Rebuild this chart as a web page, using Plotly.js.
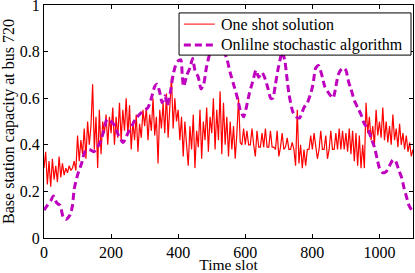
<!DOCTYPE html>
<html>
<head>
<meta charset="utf-8">
<script src="https://cdn.plot.ly/plotly-3.0.1.min.js"></script>
<style>html,body{margin:0;padding:0;background:#fff;}#chart{width:415px;height:273px;}</style>
</head>
<body>
<div id="chart"></div>
<script>
// One shot solution, sampled every 5 time slots (0..1100)
const oneShotStep = 5;
const oneShot = [
0.30,0.37,0.23,0.33,0.22,0.34,0.25,0.31,0.24,0.35,0.26,0.32,0.27,0.30,0.28,0.31,0.29,0.30,0.33,0.29,
0.44,0.33,0.42,0.36,0.47,0.34,0.50,0.40,0.48,0.66,0.38,0.52,0.30,0.55,0.36,0.50,0.45,0.53,0.40,0.52,
0.45,0.56,0.40,0.52,0.43,0.58,0.42,0.55,0.46,0.60,0.44,0.57,0.38,0.50,0.42,0.53,0.37,0.49,0.43,0.55,
0.48,0.56,0.42,0.53,0.46,0.60,0.44,0.52,0.32,0.55,0.47,0.58,0.45,0.62,0.43,0.56,0.69,0.47,0.60,0.50,
0.55,0.42,0.52,0.35,0.50,0.40,0.31,0.48,0.38,0.53,0.30,0.46,0.39,0.55,0.34,0.50,0.42,0.56,0.37,0.52,
0.45,0.60,0.38,0.55,0.42,0.63,0.36,0.58,0.40,0.52,0.35,0.50,0.38,0.48,0.34,0.45,0.60,0.41,0.40,0.47,
0.40,0.46,0.40,0.40,0.47,0.40,0.35,0.46,0.39,0.39,0.45,0.39,0.47,0.39,0.39,0.46,0.39,0.39,0.38,0.46,
0.35,0.39,0.45,0.38,0.39,0.43,0.38,0.38,0.41,0.38,0.31,0.55,0.32,0.40,0.30,0.38,0.31,0.38,0.38,0.44,
0.38,0.45,0.38,0.34,0.38,0.46,0.38,0.38,0.44,0.34,0.38,0.46,0.38,0.38,0.45,0.38,0.47,0.38,0.46,0.38,
0.45,0.37,0.47,0.36,0.46,0.33,0.45,0.31,0.44,0.30,0.40,0.30,0.58,0.45,0.52,0.42,0.48,0.40,0.55,0.44,
0.50,0.43,0.56,0.42,0.50,0.41,0.48,0.40,0.53,0.42,0.47,0.39,0.49,0.40,0.45,0.38,0.44,0.37,0.41,0.35,
0.38
];
// Online stochastic algorithm
const onlineSlots = [0,10,20,28,38,48,57,66,78,85,90,100,112,122,135,148,160,170,178,188,200,212,222,236,250,262,272,292,310,322,330,337,346,352,361,367,376,385,392,400,408,412,416,426,435,443,450,460,468,476,484,492,505,520,533,545,555,565,575,585,595,603,612,622,632,640,650,660,668,676,682,690,697,703,710,718,724,730,742,752,762,775,785,795,802,810,818,824,830,837,845,855,862,870,877,884,893,900,908,915,925,935,945,955,965,975,985,993,1000,1010,1020,1030,1040,1048,1058,1066,1074,1080,1088,1100];
const online = [0.12,0.14,0.16,0.18,0.15,0.14,0.09,0.08,0.10,0.14,0.21,0.27,0.32,0.37,0.38,0.37,0.39,0.42,0.46,0.51,0.50,0.48,0.44,0.41,0.45,0.48,0.51,0.54,0.56,0.61,0.65,0.66,0.62,0.58,0.61,0.57,0.62,0.70,0.74,0.76,0.765,0.70,0.65,0.70,0.73,0.77,0.72,0.69,0.64,0.66,0.73,0.78,0.83,0.84,0.81,0.77,0.71,0.66,0.61,0.55,0.52,0.56,0.62,0.67,0.72,0.69,0.71,0.68,0.64,0.60,0.60,0.66,0.72,0.76,0.80,0.76,0.69,0.62,0.54,0.52,0.515,0.56,0.58,0.62,0.66,0.73,0.74,0.72,0.69,0.65,0.63,0.61,0.60,0.65,0.70,0.72,0.73,0.72,0.67,0.64,0.59,0.56,0.53,0.49,0.47,0.43,0.39,0.34,0.30,0.28,0.285,0.31,0.335,0.33,0.29,0.26,0.21,0.18,0.14,0.11];
const seriesNames = ['One shot solution', 'Onlilne stochastic algorithm'];
const seriesColors = ['#ff0000', '#bf00bf'];
const xTicks = [0,200,400,600,800,1000];
const yTicks = [0,0.2,0.4,0.6,0.8,1];
const yTickText = ['0','0.2','0.4','0.6','0.8','1'];

const oneShotSlots = oneShot.map((_, i) => i * oneShotStep);
const FAM = 'Liberation Serif, Times New Roman, serif';
const font = {family: FAM, size: 16, color: '#000'};
const titleFont = {family: FAM, size: 15.5, color: '#000'};
const DASH = '7px,4px';

const traces = [
  {x: oneShotSlots, y: oneShot, type: 'scatter', mode: 'lines', name: seriesNames[0],
   line: {color: seriesColors[0], width: 1.2}},
  {x: onlineSlots, y: online, type: 'scatter', mode: 'lines', name: seriesNames[1],
   line: {color: seriesColors[1], width: 3, dash: DASH, shape: 'spline', smoothing: 0.6}}
];

// legend box drawn in paper coordinates (top-right, inside the plot)
const lg = {x0: 0.366, x1: 0.9946, y0: 0.785, y1: 0.966, sx0: 0.379, sx1: 0.463, tx: 0.474, rows: [0.918, 0.828]};
const shapes = [
  {type: 'rect', xref: 'paper', yref: 'paper', x0: lg.x0, x1: lg.x1, y0: lg.y0, y1: lg.y1,
   fillcolor: '#fff', line: {color: '#000', width: 1}, layer: 'above'},
  {type: 'line', xref: 'paper', yref: 'paper', x0: lg.sx0, x1: lg.sx1, y0: lg.rows[0], y1: lg.rows[0],
   line: {color: seriesColors[0], width: 1}, layer: 'above'},
  {type: 'line', xref: 'paper', yref: 'paper', x0: lg.sx0, x1: lg.sx1, y0: lg.rows[1], y1: lg.rows[1],
   line: {color: seriesColors[1], width: 3, dash: DASH}, layer: 'above'}
];
const annotations = seriesNames.map((n, i) => ({
  xref: 'paper', yref: 'paper', x: lg.tx, y: lg.rows[i], xanchor: 'left', yanchor: 'middle',
  text: n, showarrow: false, font: {family: FAM, size: 16, color: '#000'}
}));

const axisCommon = {showgrid: false, zeroline: false, showline: true, linecolor: '#000', linewidth: 1,
  mirror: 'ticks', ticks: 'inside', ticklen: 4, tickcolor: '#000', tickfont: font,
  ticklabeloverflow: 'allow', automargin: false};
const layout = {
  width: 415, height: 273,
  margin: {l: 44, r: 2, t: 5, b: 35},
  paper_bgcolor: '#fff', plot_bgcolor: '#fff',
  font: font,
  showlegend: false,
  shapes: shapes,
  annotations: annotations,
  xaxis: Object.assign({}, axisCommon, {range: [0, 1100], tickvals: xTicks,
    title: {text: 'Time slot', font: titleFont, standoff: 3}}),
  yaxis: Object.assign({}, axisCommon, {range: [0, 1], tickvals: yTicks, ticktext: yTickText,
    title: {text: 'Base station capacity at bus 720', font: font, standoff: 2}})
};
Plotly.newPlot('chart', traces, layout, {displayModeBar: false, staticPlot: true});
</script>
</body>
</html>
